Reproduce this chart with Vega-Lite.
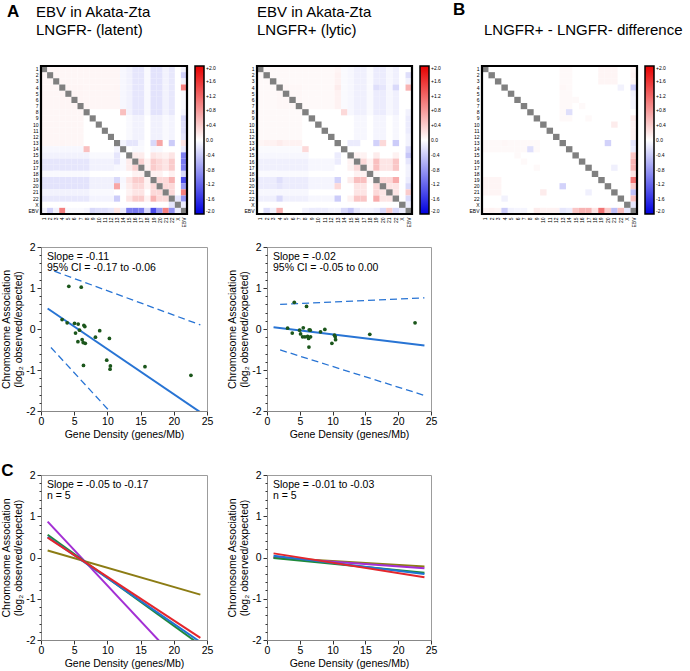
{
"$schema":"https://vega.github.io/schema/vega-lite/v6.json",
"background":"white",
"padding":{"left":1,"top":0,"right":2,"bottom":2},
"config":{"font":"Liberation Sans","view":{"stroke":null},"axis":{"grid":false},"title":{"color":"black","subtitleColor":"black"}},
"title":{"text":"B","anchor":"start","frame":"group","dx":412,"offset":-16,"fontSize":17,"fontWeight":"bold"},
"datasets":{
"hm":[
{"p":1,"a":1,"b":2,"v":0.07},{"p":1,"a":1,"b":3,"v":0.07},{"p":1,"a":1,"b":4,"v":0.07},{"p":1,"a":1,"b":5,"v":0.07},{"p":1,"a":1,"b":6,"v":0.07},{"p":1,"a":1,"b":7,"v":0.07},{"p":1,"a":1,"b":8,"v":0.07},{"p":1,"a":1,"b":9,"v":0.07},{"p":1,"a":1,"b":10,"v":0.07},{"p":1,"a":1,"b":11,"v":0.07},{"p":1,"a":1,"b":12,"v":0.07},{"p":1,"a":1,"b":13,"v":0.07},
{"p":1,"a":2,"b":3,"v":0.07},{"p":1,"a":2,"b":4,"v":0.07},{"p":1,"a":2,"b":5,"v":0.07},{"p":1,"a":2,"b":6,"v":0.07},{"p":1,"a":2,"b":7,"v":0.07},{"p":1,"a":2,"b":8,"v":0.07},{"p":1,"a":2,"b":9,"v":0.07},{"p":1,"a":2,"b":10,"v":0.07},{"p":1,"a":2,"b":11,"v":0.07},{"p":1,"a":2,"b":12,"v":0.07},{"p":1,"a":2,"b":13,"v":0.07},
{"p":1,"a":3,"b":4,"v":0.07},{"p":1,"a":3,"b":5,"v":0.07},{"p":1,"a":3,"b":6,"v":0.07},{"p":1,"a":3,"b":7,"v":0.07},{"p":1,"a":3,"b":8,"v":0.07},{"p":1,"a":3,"b":9,"v":0.07},{"p":1,"a":3,"b":10,"v":0.07},{"p":1,"a":3,"b":11,"v":0.07},{"p":1,"a":3,"b":12,"v":0.07},{"p":1,"a":3,"b":13,"v":0.07},
{"p":1,"a":4,"b":5,"v":0.08},{"p":1,"a":4,"b":6,"v":0.08},{"p":1,"a":4,"b":7,"v":0.08},{"p":1,"a":4,"b":8,"v":0.07},{"p":1,"a":4,"b":9,"v":0.07},{"p":1,"a":4,"b":10,"v":0.07},{"p":1,"a":4,"b":11,"v":0.07},{"p":1,"a":4,"b":12,"v":0.07},{"p":1,"a":4,"b":13,"v":0.08},
{"p":1,"a":5,"b":6,"v":0.08},{"p":1,"a":5,"b":7,"v":0.08},{"p":1,"a":5,"b":8,"v":0.07},{"p":1,"a":5,"b":9,"v":0.07},{"p":1,"a":5,"b":10,"v":0.07},{"p":1,"a":5,"b":11,"v":0.07},{"p":1,"a":5,"b":12,"v":0.07},{"p":1,"a":5,"b":13,"v":0.07},
{"p":1,"a":6,"b":7,"v":0.08},{"p":1,"a":6,"b":8,"v":0.07},{"p":1,"a":6,"b":9,"v":0.07},{"p":1,"a":6,"b":10,"v":0.07},{"p":1,"a":6,"b":11,"v":0.07},{"p":1,"a":6,"b":12,"v":0.07},{"p":1,"a":6,"b":13,"v":0.07},
{"p":1,"a":7,"b":8,"v":0.07},{"p":1,"a":7,"b":9,"v":0.07},{"p":1,"a":7,"b":10,"v":0.07},{"p":1,"a":7,"b":11,"v":0.07},{"p":1,"a":7,"b":12,"v":0.07},{"p":1,"a":7,"b":13,"v":0.07},
{"p":1,"a":1,"b":14,"v":-0.06},{"p":1,"a":1,"b":15,"v":-0.1},{"p":1,"a":1,"b":16,"v":-0.2},{"p":1,"a":1,"b":17,"v":-0.2},{"p":1,"a":1,"b":18,"v":-0.05},{"p":1,"a":1,"b":19,"v":-0.22},{"p":1,"a":1,"b":20,"v":-0.22},{"p":1,"a":1,"b":21,"v":-0.1},{"p":1,"a":1,"b":22,"v":-0.18},
{"p":1,"a":2,"b":14,"v":-0.06},{"p":1,"a":2,"b":15,"v":-0.1},{"p":1,"a":2,"b":16,"v":-0.2},{"p":1,"a":2,"b":17,"v":-0.2},{"p":1,"a":2,"b":18,"v":-0.05},{"p":1,"a":2,"b":19,"v":-0.22},{"p":1,"a":2,"b":20,"v":-0.22},{"p":1,"a":2,"b":21,"v":-0.1},{"p":1,"a":2,"b":22,"v":-0.18},
{"p":1,"a":3,"b":14,"v":-0.06},{"p":1,"a":3,"b":15,"v":-0.1},{"p":1,"a":3,"b":16,"v":-0.2},{"p":1,"a":3,"b":17,"v":-0.2},{"p":1,"a":3,"b":18,"v":-0.05},{"p":1,"a":3,"b":19,"v":-0.22},{"p":1,"a":3,"b":20,"v":-0.22},{"p":1,"a":3,"b":21,"v":-0.1},{"p":1,"a":3,"b":22,"v":-0.18},
{"p":1,"a":4,"b":14,"v":-0.06},{"p":1,"a":4,"b":15,"v":-0.1},{"p":1,"a":4,"b":16,"v":-0.2},{"p":1,"a":4,"b":17,"v":-0.2},{"p":1,"a":4,"b":18,"v":-0.05},{"p":1,"a":4,"b":19,"v":-0.22},{"p":1,"a":4,"b":20,"v":-0.22},{"p":1,"a":4,"b":21,"v":-0.1},{"p":1,"a":4,"b":22,"v":-0.18},
{"p":1,"a":5,"b":14,"v":-0.06},{"p":1,"a":5,"b":15,"v":-0.1},{"p":1,"a":5,"b":16,"v":-0.2},{"p":1,"a":5,"b":17,"v":-0.2},{"p":1,"a":5,"b":18,"v":-0.05},{"p":1,"a":5,"b":19,"v":-0.22},{"p":1,"a":5,"b":20,"v":-0.22},{"p":1,"a":5,"b":21,"v":-0.1},{"p":1,"a":5,"b":22,"v":-0.18},
{"p":1,"a":6,"b":14,"v":-0.06},{"p":1,"a":6,"b":15,"v":-0.1},{"p":1,"a":6,"b":16,"v":-0.2},{"p":1,"a":6,"b":17,"v":-0.2},{"p":1,"a":6,"b":18,"v":-0.05},{"p":1,"a":6,"b":19,"v":-0.22},{"p":1,"a":6,"b":20,"v":-0.22},{"p":1,"a":6,"b":21,"v":-0.1},{"p":1,"a":6,"b":22,"v":-0.18},
{"p":1,"a":7,"b":14,"v":-0.06},{"p":1,"a":7,"b":15,"v":-0.1},{"p":1,"a":7,"b":16,"v":-0.2},{"p":1,"a":7,"b":17,"v":-0.2},{"p":1,"a":7,"b":18,"v":-0.05},{"p":1,"a":7,"b":19,"v":-0.22},{"p":1,"a":7,"b":20,"v":-0.22},{"p":1,"a":7,"b":21,"v":-0.1},{"p":1,"a":7,"b":22,"v":-0.18},
{"p":1,"a":8,"b":14,"v":0.5},{"p":1,"a":8,"b":15,"v":-0.1},{"p":1,"a":8,"b":16,"v":-0.2},{"p":1,"a":8,"b":17,"v":-0.2},{"p":1,"a":8,"b":18,"v":-0.05},{"p":1,"a":8,"b":19,"v":-0.22},{"p":1,"a":8,"b":20,"v":-0.22},{"p":1,"a":8,"b":21,"v":-0.1},{"p":1,"a":8,"b":22,"v":-0.18},
{"p":1,"a":9,"b":15,"v":-0.05},{"p":1,"a":9,"b":16,"v":-0.1},{"p":1,"a":9,"b":17,"v":-0.1},{"p":1,"a":9,"b":19,"v":-0.11},{"p":1,"a":9,"b":20,"v":-0.11},{"p":1,"a":9,"b":21,"v":-0.05},{"p":1,"a":9,"b":22,"v":-0.09},
{"p":1,"a":10,"b":15,"v":-0.05},{"p":1,"a":10,"b":16,"v":-0.1},{"p":1,"a":10,"b":17,"v":-0.1},{"p":1,"a":10,"b":19,"v":-0.11},{"p":1,"a":10,"b":20,"v":-0.11},{"p":1,"a":10,"b":21,"v":-0.05},{"p":1,"a":10,"b":22,"v":-0.09},
{"p":1,"a":11,"b":15,"v":-0.05},{"p":1,"a":11,"b":16,"v":-0.1},{"p":1,"a":11,"b":17,"v":-0.1},{"p":1,"a":11,"b":19,"v":-0.11},{"p":1,"a":11,"b":20,"v":-0.11},{"p":1,"a":11,"b":21,"v":-0.05},{"p":1,"a":11,"b":22,"v":-0.09},
{"p":1,"a":12,"b":15,"v":-0.05},{"p":1,"a":12,"b":16,"v":-0.1},{"p":1,"a":12,"b":17,"v":-0.1},{"p":1,"a":12,"b":19,"v":-0.11},{"p":1,"a":12,"b":20,"v":-0.11},{"p":1,"a":12,"b":21,"v":-0.05},{"p":1,"a":12,"b":22,"v":-0.09},
{"p":1,"a":13,"b":14,"v":-0.08},{"p":1,"a":13,"b":15,"v":-0.2},{"p":1,"a":13,"b":16,"v":-0.2},{"p":1,"a":13,"b":17,"v":-0.06},{"p":1,"a":13,"b":19,"v":-0.3},{"p":1,"a":13,"b":20,"v":0.7},{"p":1,"a":13,"b":22,"v":-0.4},
{"p":1,"a":14,"b":16,"v":-0.05},{"p":1,"a":14,"b":17,"v":-0.05},{"p":1,"a":14,"b":19,"v":-0.06},{"p":1,"a":14,"b":20,"v":-0.05},
{"p":1,"a":15,"b":16,"v":0.15},{"p":1,"a":15,"b":17,"v":0.15},{"p":1,"a":15,"b":19,"v":0.2},{"p":1,"a":15,"b":20,"v":0.15},{"p":1,"a":15,"b":21,"v":0.1},{"p":1,"a":15,"b":22,"v":0.2},
{"p":1,"a":16,"b":17,"v":0.35},{"p":1,"a":16,"b":18,"v":0.1},{"p":1,"a":16,"b":19,"v":0.4},{"p":1,"a":16,"b":20,"v":0.3},{"p":1,"a":16,"b":21,"v":0.2},{"p":1,"a":16,"b":22,"v":0.4},
{"p":1,"a":17,"b":18,"v":0.1},{"p":1,"a":17,"b":19,"v":0.4},{"p":1,"a":17,"b":20,"v":0.3},{"p":1,"a":17,"b":21,"v":0.2},{"p":1,"a":17,"b":22,"v":0.4},
{"p":1,"a":18,"b":19,"v":0.1},{"p":1,"a":18,"b":20,"v":0.1},{"p":1,"a":18,"b":22,"v":0.1},
{"p":1,"a":19,"b":20,"v":0.3},{"p":1,"a":19,"b":21,"v":0.3},{"p":1,"a":19,"b":22,"v":0.6},
{"p":1,"a":20,"b":21,"v":0.3},{"p":1,"a":20,"b":22,"v":0.3},{"p":1,"a":21,"b":22,"v":0.3},{"p":1,"a":22,"b":23,"v":-0.2},
{"p":1,"a":1,"b":24,"v":-0.1},{"p":1,"a":2,"b":24,"v":-0.35},{"p":1,"a":3,"b":24,"v":-0.1},{"p":1,"a":4,"b":24,"v":1.0},{"p":1,"a":5,"b":24,"v":-0.05},{"p":1,"a":6,"b":24,"v":-0.05},{"p":1,"a":7,"b":24,"v":-0.05},{"p":1,"a":8,"b":24,"v":-0.08},{"p":1,"a":9,"b":24,"v":-0.3},{"p":1,"a":10,"b":24,"v":-0.25},{"p":1,"a":11,"b":24,"v":-0.25},{"p":1,"a":12,"b":24,"v":-0.2},{"p":1,"a":13,"b":24,"v":0.2},{"p":1,"a":14,"b":24,"v":-0.15},{"p":1,"a":15,"b":24,"v":-1.0},{"p":1,"a":16,"b":24,"v":-1.05},{"p":1,"a":17,"b":24,"v":-1.0},{"p":1,"a":18,"b":24,"v":-0.3},{"p":1,"a":19,"b":24,"v":-1.4},{"p":1,"a":20,"b":24,"v":-0.8},{"p":1,"a":21,"b":24,"v":1.0},{"p":1,"a":22,"b":24,"v":-0.85},{"p":1,"a":23,"b":24,"v":-0.15},
{"p":2,"a":1,"b":2,"v":0.05},{"p":2,"a":1,"b":3,"v":0.05},{"p":2,"a":1,"b":4,"v":0.05},{"p":2,"a":1,"b":5,"v":0.05},{"p":2,"a":1,"b":6,"v":0.05},{"p":2,"a":1,"b":7,"v":0.05},{"p":2,"a":1,"b":8,"v":0.05},{"p":2,"a":1,"b":9,"v":0.05},{"p":2,"a":1,"b":10,"v":0.05},{"p":2,"a":1,"b":11,"v":0.05},{"p":2,"a":1,"b":12,"v":0.05},{"p":2,"a":1,"b":13,"v":0.08},
{"p":2,"a":2,"b":3,"v":0.05},{"p":2,"a":2,"b":4,"v":0.05},{"p":2,"a":2,"b":5,"v":0.05},{"p":2,"a":2,"b":6,"v":0.05},{"p":2,"a":2,"b":7,"v":0.05},{"p":2,"a":2,"b":8,"v":0.05},{"p":2,"a":2,"b":9,"v":0.05},{"p":2,"a":2,"b":10,"v":0.05},{"p":2,"a":2,"b":11,"v":0.05},{"p":2,"a":2,"b":12,"v":0.05},{"p":2,"a":2,"b":13,"v":0.1},
{"p":2,"a":3,"b":4,"v":0.05},{"p":2,"a":3,"b":5,"v":0.05},{"p":2,"a":3,"b":6,"v":0.05},{"p":2,"a":3,"b":7,"v":0.05},{"p":2,"a":3,"b":8,"v":0.05},{"p":2,"a":3,"b":9,"v":0.05},{"p":2,"a":3,"b":10,"v":0.05},{"p":2,"a":3,"b":11,"v":0.05},{"p":2,"a":3,"b":12,"v":0.05},{"p":2,"a":3,"b":13,"v":0.1},
{"p":2,"a":4,"b":5,"v":0.06},{"p":2,"a":4,"b":6,"v":0.06},{"p":2,"a":4,"b":7,"v":0.06},{"p":2,"a":4,"b":8,"v":0.05},{"p":2,"a":4,"b":9,"v":0.05},{"p":2,"a":4,"b":10,"v":0.05},{"p":2,"a":4,"b":11,"v":0.05},{"p":2,"a":4,"b":12,"v":0.05},{"p":2,"a":4,"b":13,"v":0.15},
{"p":2,"a":5,"b":6,"v":0.06},{"p":2,"a":5,"b":7,"v":0.06},{"p":2,"a":5,"b":8,"v":0.05},{"p":2,"a":5,"b":9,"v":0.05},{"p":2,"a":5,"b":10,"v":0.05},{"p":2,"a":5,"b":11,"v":0.05},{"p":2,"a":5,"b":12,"v":0.05},{"p":2,"a":5,"b":13,"v":0.1},
{"p":2,"a":6,"b":7,"v":0.06},{"p":2,"a":6,"b":8,"v":0.05},{"p":2,"a":6,"b":9,"v":0.05},{"p":2,"a":6,"b":10,"v":0.05},{"p":2,"a":6,"b":11,"v":0.05},{"p":2,"a":6,"b":12,"v":0.05},{"p":2,"a":6,"b":13,"v":0.1},
{"p":2,"a":7,"b":8,"v":0.05},{"p":2,"a":7,"b":9,"v":0.05},{"p":2,"a":7,"b":10,"v":0.05},{"p":2,"a":7,"b":11,"v":0.05},{"p":2,"a":7,"b":12,"v":0.05},{"p":2,"a":7,"b":13,"v":0.1},
{"p":2,"a":1,"b":14,"v":-0.04},{"p":2,"a":1,"b":15,"v":-0.06},{"p":2,"a":1,"b":16,"v":-0.12},{"p":2,"a":1,"b":17,"v":-0.12},{"p":2,"a":1,"b":18,"v":-0.04},{"p":2,"a":1,"b":19,"v":-0.15},{"p":2,"a":1,"b":20,"v":-0.15},{"p":2,"a":1,"b":21,"v":-0.06},{"p":2,"a":1,"b":22,"v":-0.12},
{"p":2,"a":2,"b":14,"v":-0.04},{"p":2,"a":2,"b":15,"v":-0.06},{"p":2,"a":2,"b":16,"v":-0.12},{"p":2,"a":2,"b":17,"v":-0.12},{"p":2,"a":2,"b":18,"v":-0.04},{"p":2,"a":2,"b":19,"v":-0.15},{"p":2,"a":2,"b":20,"v":-0.15},{"p":2,"a":2,"b":21,"v":-0.06},{"p":2,"a":2,"b":22,"v":-0.12},
{"p":2,"a":3,"b":14,"v":-0.04},{"p":2,"a":3,"b":15,"v":-0.06},{"p":2,"a":3,"b":16,"v":-0.12},{"p":2,"a":3,"b":17,"v":-0.12},{"p":2,"a":3,"b":18,"v":-0.04},{"p":2,"a":3,"b":19,"v":-0.15},{"p":2,"a":3,"b":20,"v":-0.15},{"p":2,"a":3,"b":21,"v":-0.06},{"p":2,"a":3,"b":22,"v":-0.12},
{"p":2,"a":4,"b":14,"v":-0.04},{"p":2,"a":4,"b":15,"v":-0.06},{"p":2,"a":4,"b":16,"v":-0.12},{"p":2,"a":4,"b":17,"v":-0.12},{"p":2,"a":4,"b":18,"v":-0.04},{"p":2,"a":4,"b":19,"v":-0.25},{"p":2,"a":4,"b":20,"v":-0.2},{"p":2,"a":4,"b":21,"v":-0.06},{"p":2,"a":4,"b":22,"v":-0.3},
{"p":2,"a":5,"b":14,"v":-0.04},{"p":2,"a":5,"b":15,"v":-0.06},{"p":2,"a":5,"b":16,"v":-0.12},{"p":2,"a":5,"b":17,"v":-0.12},{"p":2,"a":5,"b":18,"v":-0.04},{"p":2,"a":5,"b":19,"v":-0.15},{"p":2,"a":5,"b":20,"v":-0.15},{"p":2,"a":5,"b":21,"v":-0.06},{"p":2,"a":5,"b":22,"v":-0.12},
{"p":2,"a":6,"b":14,"v":-0.04},{"p":2,"a":6,"b":15,"v":-0.06},{"p":2,"a":6,"b":16,"v":-0.12},{"p":2,"a":6,"b":17,"v":-0.12},{"p":2,"a":6,"b":18,"v":-0.04},{"p":2,"a":6,"b":19,"v":-0.15},{"p":2,"a":6,"b":20,"v":-0.15},{"p":2,"a":6,"b":21,"v":-0.06},{"p":2,"a":6,"b":22,"v":-0.12},
{"p":2,"a":7,"b":14,"v":-0.04},{"p":2,"a":7,"b":15,"v":-0.06},{"p":2,"a":7,"b":16,"v":-0.12},{"p":2,"a":7,"b":17,"v":-0.12},{"p":2,"a":7,"b":18,"v":-0.04},{"p":2,"a":7,"b":19,"v":-0.15},{"p":2,"a":7,"b":20,"v":-0.15},{"p":2,"a":7,"b":21,"v":-0.06},{"p":2,"a":7,"b":22,"v":-0.12},
{"p":2,"a":8,"b":14,"v":0.3},{"p":2,"a":8,"b":15,"v":-0.06},{"p":2,"a":8,"b":16,"v":-0.12},{"p":2,"a":8,"b":17,"v":-0.12},{"p":2,"a":8,"b":18,"v":-0.04},{"p":2,"a":8,"b":19,"v":-0.15},{"p":2,"a":8,"b":20,"v":-0.15},{"p":2,"a":8,"b":21,"v":-0.06},{"p":2,"a":8,"b":22,"v":-0.12},
{"p":2,"a":9,"b":16,"v":-0.06},{"p":2,"a":9,"b":17,"v":-0.06},{"p":2,"a":9,"b":19,"v":-0.08},{"p":2,"a":9,"b":20,"v":-0.08},{"p":2,"a":9,"b":22,"v":-0.06},
{"p":2,"a":10,"b":16,"v":-0.06},{"p":2,"a":10,"b":17,"v":-0.06},{"p":2,"a":10,"b":19,"v":-0.08},{"p":2,"a":10,"b":20,"v":-0.08},{"p":2,"a":10,"b":22,"v":-0.06},
{"p":2,"a":11,"b":16,"v":-0.06},{"p":2,"a":11,"b":17,"v":-0.06},{"p":2,"a":11,"b":19,"v":-0.08},{"p":2,"a":11,"b":20,"v":-0.08},{"p":2,"a":11,"b":22,"v":-0.06},
{"p":2,"a":12,"b":16,"v":-0.06},{"p":2,"a":12,"b":17,"v":-0.06},{"p":2,"a":12,"b":19,"v":-0.08},{"p":2,"a":12,"b":20,"v":-0.08},{"p":2,"a":12,"b":22,"v":-0.06},
{"p":2,"a":13,"b":15,"v":-0.15},{"p":2,"a":13,"b":16,"v":-0.15},{"p":2,"a":13,"b":19,"v":-0.35},{"p":2,"a":13,"b":20,"v":0.3},{"p":2,"a":13,"b":22,"v":-0.4},
{"p":2,"a":15,"b":16,"v":0.1},{"p":2,"a":15,"b":17,"v":0.1},{"p":2,"a":15,"b":19,"v":0.15},{"p":2,"a":15,"b":22,"v":0.1},
{"p":2,"a":16,"b":17,"v":0.3},{"p":2,"a":16,"b":18,"v":0.1},{"p":2,"a":16,"b":19,"v":0.5},{"p":2,"a":16,"b":20,"v":0.2},{"p":2,"a":16,"b":21,"v":0.2},{"p":2,"a":16,"b":22,"v":0.45},
{"p":2,"a":17,"b":18,"v":0.1},{"p":2,"a":17,"b":19,"v":0.5},{"p":2,"a":17,"b":20,"v":0.2},{"p":2,"a":17,"b":21,"v":0.2},{"p":2,"a":17,"b":22,"v":0.45},
{"p":2,"a":18,"b":19,"v":0.05},{"p":2,"a":19,"b":20,"v":0.3},{"p":2,"a":19,"b":21,"v":0.3},{"p":2,"a":19,"b":22,"v":0.65},
{"p":2,"a":20,"b":21,"v":0.2},{"p":2,"a":20,"b":22,"v":0.2},{"p":2,"a":21,"b":22,"v":0.2},
{"p":2,"a":2,"b":24,"v":-0.25},{"p":2,"a":3,"b":24,"v":-0.1},{"p":2,"a":4,"b":24,"v":0.6},{"p":2,"a":8,"b":24,"v":-0.1},{"p":2,"a":9,"b":24,"v":-0.15},{"p":2,"a":10,"b":24,"v":-0.15},{"p":2,"a":11,"b":24,"v":-0.15},{"p":2,"a":12,"b":24,"v":-0.1},{"p":2,"a":13,"b":24,"v":-0.1},{"p":2,"a":14,"b":24,"v":-0.3},{"p":2,"a":15,"b":24,"v":-0.45},{"p":2,"a":16,"b":24,"v":-0.2},{"p":2,"a":17,"b":24,"v":-0.1},{"p":2,"a":18,"b":24,"v":-0.1},{"p":2,"a":19,"b":24,"v":-0.15},{"p":2,"a":20,"b":24,"v":-0.3},{"p":2,"a":21,"b":24,"v":0.4},{"p":2,"a":22,"b":24,"v":-0.3},{"p":2,"a":23,"b":24,"v":-0.15},
{"p":3,"a":1,"b":13,"v":0.05},{"p":3,"a":2,"b":13,"v":0.05},{"p":3,"a":3,"b":13,"v":0.05},{"p":3,"a":4,"b":13,"v":0.06},{"p":3,"a":5,"b":13,"v":0.05},{"p":3,"a":6,"b":13,"v":0.05},{"p":3,"a":7,"b":13,"v":0.05},{"p":3,"a":8,"b":13,"v":0.05},{"p":3,"a":9,"b":13,"v":0.05},
{"p":3,"a":1,"b":14,"v":0.05},{"p":3,"a":2,"b":14,"v":0.05},{"p":3,"a":3,"b":14,"v":0.05},{"p":3,"a":4,"b":14,"v":0.05},{"p":3,"a":5,"b":14,"v":0.05},{"p":3,"a":6,"b":14,"v":0.05},{"p":3,"a":7,"b":14,"v":0.05},{"p":3,"a":8,"b":14,"v":-0.25},{"p":3,"a":9,"b":14,"v":0.05},
{"p":3,"a":1,"b":19,"v":0.08},{"p":3,"a":1,"b":20,"v":0.08},{"p":3,"a":1,"b":21,"v":0.08},{"p":3,"a":2,"b":19,"v":0.08},{"p":3,"a":2,"b":20,"v":0.08},{"p":3,"a":2,"b":21,"v":0.08},{"p":3,"a":3,"b":19,"v":0.08},{"p":3,"a":3,"b":20,"v":0.08},{"p":3,"a":3,"b":21,"v":0.08},
{"p":3,"a":4,"b":22,"v":-0.1},{"p":3,"a":13,"b":20,"v":-0.35},{"p":3,"a":17,"b":21,"v":-0.12},{"p":3,"a":10,"b":21,"v":0.15},{"p":3,"a":6,"b":15,"v":0.05},{"p":3,"a":7,"b":16,"v":0.05},{"p":3,"a":9,"b":17,"v":0.05},
{"p":3,"a":1,"b":24,"v":0.08},{"p":3,"a":2,"b":24,"v":0.1},{"p":3,"a":3,"b":24,"v":0.08},{"p":3,"a":4,"b":24,"v":-0.4},{"p":3,"a":5,"b":24,"v":-0.1},{"p":3,"a":6,"b":24,"v":-0.08},{"p":3,"a":7,"b":24,"v":-0.08},{"p":3,"a":9,"b":24,"v":0.15},{"p":3,"a":10,"b":24,"v":0.1},{"p":3,"a":11,"b":24,"v":0.1},{"p":3,"a":12,"b":24,"v":0.1},{"p":3,"a":13,"b":24,"v":-0.2},{"p":3,"a":14,"b":24,"v":-0.15},{"p":3,"a":15,"b":24,"v":0.45},{"p":3,"a":16,"b":24,"v":0.6},{"p":3,"a":17,"b":24,"v":0.6},{"p":3,"a":18,"b":24,"v":0.2},{"p":3,"a":19,"b":24,"v":1.1},{"p":3,"a":20,"b":24,"v":0.4},{"p":3,"a":21,"b":24,"v":-0.5},{"p":3,"a":22,"b":24,"v":0.5},{"p":3,"a":23,"b":24,"v":-0.2}
],
"diag":[{"k":1},{"k":2},{"k":3},{"k":4},{"k":5},{"k":6},{"k":7},{"k":8},{"k":9},{"k":10},{"k":11},{"k":12},{"k":13},{"k":14},{"k":15},{"k":16},{"k":17},{"k":18},{"k":19},{"k":20},{"k":21},{"k":22},{"k":23},{"k":24}],
"frame":[{"f":"border"}],
"pts":[
{"p":1,"x":4.19,"y":1.04},{"p":1,"x":6.06,"y":1.02},{"p":1,"x":3.18,"y":0.23},{"p":1,"x":3.94,"y":0.15},{"p":1,"x":5.05,"y":0.14},{"p":1,"x":5.6,"y":0.12},{"p":1,"x":6.46,"y":0.09},{"p":1,"x":6.6,"y":0.06},{"p":1,"x":5.2,"y":-0.1},{"p":1,"x":5.8,"y":-0.03},{"p":1,"x":8.84,"y":-0.04},{"p":1,"x":8.2,"y":-0.2},{"p":1,"x":10.3,"y":-0.23},{"p":1,"x":5.56,"y":-0.31},{"p":1,"x":6.2,"y":-0.26},{"p":1,"x":6.36,"y":-0.33},{"p":1,"x":6.67,"y":-0.35},{"p":1,"x":9.9,"y":-0.76},{"p":1,"x":10.45,"y":-0.9},{"p":1,"x":10.4,"y":-0.98},{"p":1,"x":6.4,"y":-0.89},{"p":1,"x":15.66,"y":-0.92},{"p":1,"x":22.58,"y":-1.13},
{"p":2,"x":4.16,"y":0.65},{"p":2,"x":6.03,"y":0.55},{"p":2,"x":3.14,"y":0.02},{"p":2,"x":3.85,"y":-0.1},{"p":2,"x":4.97,"y":-0.03},{"p":2,"x":5.12,"y":-0.12},{"p":2,"x":5.53,"y":0.03},{"p":2,"x":5.43,"y":-0.19},{"p":2,"x":5.78,"y":-0.19},{"p":2,"x":6.19,"y":-0.18},{"p":2,"x":6.34,"y":-0.23},{"p":2,"x":6.44,"y":-0.02},{"p":2,"x":6.59,"y":-0.03},{"p":2,"x":6.64,"y":-0.19},{"p":2,"x":6.39,"y":-0.44},{"p":2,"x":8.16,"y":-0.07},{"p":2,"x":8.82,"y":-0.01},{"p":2,"x":9.89,"y":-0.35},{"p":2,"x":10.29,"y":-0.15},{"p":2,"x":10.4,"y":-0.19},{"p":2,"x":10.45,"y":-0.26},{"p":2,"x":15.67,"y":-0.13},{"p":2,"x":22.57,"y":0.15}
],
"fit":[
{"p":1,"k":"fit","x":1,"y":0.5},{"p":1,"k":"fit","x":24,"y":-2.03},
{"p":1,"k":"hi","x":2,"y":1.41},{"p":1,"k":"hi","x":24,"y":0.1},
{"p":1,"k":"lo","x":1.5,"y":-0.45},{"p":1,"k":"lo","x":24,"y":-4.41},
{"p":2,"k":"fit","x":1,"y":0.04},{"p":2,"k":"fit","x":24,"y":-0.4},
{"p":2,"k":"hi","x":2,"y":0.6},{"p":2,"k":"hi","x":24,"y":0.76},
{"p":2,"k":"lo","x":2,"y":-0.51},{"p":2,"k":"lo","x":24,"y":-1.62}
],
"cl":[
{"p":1,"s":"olive","x":1,"y":0.17},{"p":1,"s":"olive","x":24,"y":-0.9},
{"p":1,"s":"purple","x":1,"y":0.87},{"p":1,"s":"purple","x":24,"y":-3.09},
{"p":1,"s":"green","x":1,"y":0.55},{"p":1,"s":"green","x":24,"y":-2.12},
{"p":1,"s":"blue","x":1,"y":0.5},{"p":1,"s":"blue","x":24,"y":-2.05},
{"p":1,"s":"red","x":1,"y":0.48},{"p":1,"s":"red","x":24,"y":-1.95},
{"p":2,"s":"olive","x":1,"y":0.0},{"p":2,"s":"olive","x":24,"y":-0.22},
{"p":2,"s":"purple","x":1,"y":0.0},{"p":2,"s":"purple","x":24,"y":-0.26},
{"p":2,"s":"green","x":1,"y":-0.01},{"p":2,"s":"green","x":24,"y":-0.37},
{"p":2,"s":"blue","x":1,"y":0.04},{"p":2,"s":"blue","x":24,"y":-0.4},
{"p":2,"s":"red","x":1,"y":0.1},{"p":2,"s":"red","x":24,"y":-0.48}
]
},
"resolve":{"scale":{"color":"independent"}},
"spacing":13,
"vconcat":[
{"hconcat":[
{"width":146,"height":148,
 "title":{"text":["EBV in Akata-Zta","LNGFR- (latent)"],"anchor":"start","frame":"group","dx":-5,"offset":27,"fontSize":15,"fontWeight":"normal","lineHeight":18},
 "layer":[
 {"data":{"name":"hm"},"transform":[{"filter":"datum.p==1"}],"mark":"rect","encoding":{
  "x":{"field":"b","type":"ordinal","scale":{"domain":[1,2,3,4,5,6,7,8,9,10,11,12,13,14,15,16,17,18,19,20,21,22,23,24],"paddingInner":0,"paddingOuter":0},"axis":{"title":null,"ticks":false,"domain":false,"labelFontSize":5,"labelAngle":-90,"labelPadding":3,"labelExpr":"datum.value==23?'X':datum.value==24?'EBV':datum.label"}},
  "y":{"field":"a","type":"ordinal","scale":{"domain":[1,2,3,4,5,6,7,8,9,10,11,12,13,14,15,16,17,18,19,20,21,22,23,24],"paddingInner":0,"paddingOuter":0},"axis":{"title":null,"ticks":false,"domain":false,"labelFontSize":5,"labelPadding":3,"labelExpr":"datum.value==23?'X':datum.value==24?'EBV':datum.label"}},
  "color":{"field":"v","type":"quantitative","scale":{"domain":[-2,0,2],"range":["#0000e0","#ffffff","#e80000"],"interpolate":"rgb"},"legend":{"title":null,"offset":8,"padding":0,"gradientLength":148,"gradientThickness":9,"gradientStrokeColor":"black","gradientStrokeWidth":1.5,"values":[2,1.6,1.2,0.8,0.4,0,-0.4,-0.8,-1.2,-1.6,-2],"labelFontSize":5,"labelOffset":2,"labelOverlap":false,"labelExpr":"datum.value>0?'+'+format(datum.value,'.1f'):replace(format(datum.value,'.1f'),'\u2212','-')"}}}},
 {"data":{"name":"hm"},"transform":[{"filter":"datum.p==1"}],"mark":"rect","encoding":{
  "x":{"field":"a","type":"ordinal","scale":{"domain":[1,2,3,4,5,6,7,8,9,10,11,12,13,14,15,16,17,18,19,20,21,22,23,24],"paddingInner":0,"paddingOuter":0},"axis":{"title":null}},"y":{"field":"b","type":"ordinal","scale":{"domain":[1,2,3,4,5,6,7,8,9,10,11,12,13,14,15,16,17,18,19,20,21,22,23,24],"paddingInner":0,"paddingOuter":0},"axis":{"title":null}},
  "color":{"field":"v","type":"quantitative","scale":{"domain":[-2,0,2],"range":["#0000e0","#ffffff","#e80000"],"interpolate":"rgb"}}}},
 {"data":{"name":"diag"},"mark":{"type":"rect","color":"#808080"},"encoding":{"x":{"field":"k","type":"ordinal","axis":{"title":null}},"y":{"field":"k","type":"ordinal","axis":{"title":null}}}},
 {"data":{"name":"frame"},"mark":{"type":"rect","fillOpacity":0,"stroke":"black","strokeWidth":2.2},"encoding":{}}
 ]},
{"width":155,"height":148,
 "title":{"text":["EBV in Akata-Zta","LNGFR+ (lytic)"],"anchor":"start","frame":"group","dx":0,"offset":27,"fontSize":15,"fontWeight":"normal","lineHeight":18},
 "layer":[
 {"data":{"name":"hm"},"transform":[{"filter":"datum.p==2"}],"mark":"rect","encoding":{
  "x":{"field":"b","type":"ordinal","scale":{"domain":[1,2,3,4,5,6,7,8,9,10,11,12,13,14,15,16,17,18,19,20,21,22,23,24],"paddingInner":0,"paddingOuter":0},"axis":{"title":null,"ticks":false,"domain":false,"labelFontSize":5,"labelAngle":-90,"labelPadding":3,"labelExpr":"datum.value==23?'X':datum.value==24?'EBV':datum.label"}},
  "y":{"field":"a","type":"ordinal","scale":{"domain":[1,2,3,4,5,6,7,8,9,10,11,12,13,14,15,16,17,18,19,20,21,22,23,24],"paddingInner":0,"paddingOuter":0},"axis":{"title":null,"ticks":false,"domain":false,"labelFontSize":5,"labelPadding":3,"labelExpr":"datum.value==23?'X':datum.value==24?'EBV':datum.label"}},
  "color":{"field":"v","type":"quantitative","scale":{"domain":[-2,0,2],"range":["#0000e0","#ffffff","#e80000"],"interpolate":"rgb"},"legend":{"title":null,"offset":8,"padding":0,"gradientLength":148,"gradientThickness":9,"gradientStrokeColor":"black","gradientStrokeWidth":1.5,"values":[2,1.6,1.2,0.8,0.4,0,-0.4,-0.8,-1.2,-1.6,-2],"labelFontSize":5,"labelOffset":2,"labelOverlap":false,"labelExpr":"datum.value>0?'+'+format(datum.value,'.1f'):replace(format(datum.value,'.1f'),'\u2212','-')"}}}},
 {"data":{"name":"hm"},"transform":[{"filter":"datum.p==2"}],"mark":"rect","encoding":{
  "x":{"field":"a","type":"ordinal","scale":{"domain":[1,2,3,4,5,6,7,8,9,10,11,12,13,14,15,16,17,18,19,20,21,22,23,24],"paddingInner":0,"paddingOuter":0},"axis":{"title":null}},"y":{"field":"b","type":"ordinal","scale":{"domain":[1,2,3,4,5,6,7,8,9,10,11,12,13,14,15,16,17,18,19,20,21,22,23,24],"paddingInner":0,"paddingOuter":0},"axis":{"title":null}},
  "color":{"field":"v","type":"quantitative","scale":{"domain":[-2,0,2],"range":["#0000e0","#ffffff","#e80000"],"interpolate":"rgb"}}}},
 {"data":{"name":"diag"},"mark":{"type":"rect","color":"#808080"},"encoding":{"x":{"field":"k","type":"ordinal","axis":{"title":null}},"y":{"field":"k","type":"ordinal","axis":{"title":null}}}},
 {"data":{"name":"frame"},"mark":{"type":"rect","fillOpacity":0,"stroke":"black","strokeWidth":2.2},"encoding":{}}
 ]},
{"width":155,"height":148,
 "title":{"text":"LNGFR+ - LNGFR- difference","anchor":"start","frame":"group","dx":2,"offset":27,"fontSize":15,"fontWeight":"normal"},
 "layer":[
 {"data":{"name":"hm"},"transform":[{"filter":"datum.p==3"}],"mark":"rect","encoding":{
  "x":{"field":"b","type":"ordinal","scale":{"domain":[1,2,3,4,5,6,7,8,9,10,11,12,13,14,15,16,17,18,19,20,21,22,23,24],"paddingInner":0,"paddingOuter":0},"axis":{"title":null,"ticks":false,"domain":false,"labelFontSize":5,"labelAngle":-90,"labelPadding":3,"labelExpr":"datum.value==23?'X':datum.value==24?'EBV':datum.label"}},
  "y":{"field":"a","type":"ordinal","scale":{"domain":[1,2,3,4,5,6,7,8,9,10,11,12,13,14,15,16,17,18,19,20,21,22,23,24],"paddingInner":0,"paddingOuter":0},"axis":{"title":null,"ticks":false,"domain":false,"labelFontSize":5,"labelPadding":3,"labelExpr":"datum.value==23?'X':datum.value==24?'EBV':datum.label"}},
  "color":{"field":"v","type":"quantitative","scale":{"domain":[-2,0,2],"range":["#0000e0","#ffffff","#e80000"],"interpolate":"rgb"},"legend":{"title":null,"offset":8,"padding":0,"gradientLength":148,"gradientThickness":9,"gradientStrokeColor":"black","gradientStrokeWidth":1.5,"values":[2,1.6,1.2,0.8,0.4,0,-0.4,-0.8,-1.2,-1.6,-2],"labelFontSize":5,"labelOffset":2,"labelOverlap":false,"labelExpr":"datum.value>0?'+'+format(datum.value,'.1f'):replace(format(datum.value,'.1f'),'\u2212','-')"}}}},
 {"data":{"name":"hm"},"transform":[{"filter":"datum.p==3"}],"mark":"rect","encoding":{
  "x":{"field":"a","type":"ordinal","scale":{"domain":[1,2,3,4,5,6,7,8,9,10,11,12,13,14,15,16,17,18,19,20,21,22,23,24],"paddingInner":0,"paddingOuter":0},"axis":{"title":null}},"y":{"field":"b","type":"ordinal","scale":{"domain":[1,2,3,4,5,6,7,8,9,10,11,12,13,14,15,16,17,18,19,20,21,22,23,24],"paddingInner":0,"paddingOuter":0},"axis":{"title":null}},
  "color":{"field":"v","type":"quantitative","scale":{"domain":[-2,0,2],"range":["#0000e0","#ffffff","#e80000"],"interpolate":"rgb"}}}},
 {"data":{"name":"diag"},"mark":{"type":"rect","color":"#808080"},"encoding":{"x":{"field":"k","type":"ordinal","axis":{"title":null}},"y":{"field":"k","type":"ordinal","axis":{"title":null}}}},
 {"data":{"name":"frame"},"mark":{"type":"rect","fillOpacity":0,"stroke":"black","strokeWidth":2.2},"encoding":{}}
 ]}
],"spacing":70,"bounds":"flush","resolve":{"scale":{"color":"independent"}},
 "title":{"text":"A","anchor":"start","frame":"group","dx":-34,"offset":-16,"fontSize":17,"fontWeight":"bold"}},
{"vconcat":[
{"hconcat":[
{"width":166,"height":164,"view":{"stroke":"#9c9c9c","strokeWidth":1},
 "title":{"text":["Slope = -0.11","95% CI = -0.17 to -0.06"],"anchor":"start","frame":"group","offset":-31,"dx":6,"fontSize":10.5,"fontWeight":"normal","lineHeight":11},
 "encoding":{"x":{"field":"x","type":"quantitative","scale":{"domain":[0,25],"nice":false,"zero":false},"axis":{"values":[0,5,10,15,20,25],"title":"Gene Density (genes/Mb)","titleFontSize":10.5,"titleFontWeight":"normal","titlePadding":3,"labelFontSize":10.5,"labelPadding":1,"labelFlush":false,"tickSize":4,"tickColor":"#333","domainColor":"#888","labelColor":"black","titleColor":"black"}}},
 "layer":[
 {"data":{"name":"fit"},"transform":[{"filter":"datum.p==1 && datum.k=='fit'"}],"mark":{"type":"line","clip":true,"color":"#2874d4","strokeWidth":2},
  "encoding":{"y":{"field":"y","type":"quantitative","scale":{"domain":[-2,2],"nice":false,"zero":false},"axis":{"orient":"left","values":[-2,-1,0,1,2],"labelExpr":"''+datum.value","title":["Chromosome Association","(log\u2082 observed/expected)"],"titleFontSize":10.5,"titleFontWeight":"normal","titleLineHeight":12,"titlePadding":2,"labelFontSize":10.5,"labelPadding":2,"tickSize":4,"tickColor":"#333","domainColor":"#888","labelColor":"black","titleColor":"black"}}}},
 {"data":{"name":"fit"},"transform":[{"filter":"datum.p==1 && datum.k!='fit'"}],"mark":{"type":"line","clip":true,"color":"#2874d4","strokeWidth":1.3,"strokeDash":[7,4]},
  "encoding":{"detail":{"field":"k","type":"nominal"},"y":{"field":"y","type":"quantitative","axis":{"orient":"left","values":[-1.8,-1.6,-1.4,-1.2,-0.8,-0.6,-0.4,-0.2,0.2,0.4,0.6,0.8,1.2,1.4,1.6,1.8],"labels":false,"tickSize":2,"domain":false,"title":null,"tickColor":"#333"}}}},
 {"data":{"name":"pts"},"transform":[{"filter":"datum.p==1"}],"mark":{"type":"circle","size":14,"color":"#1b561b","opacity":1},
  "encoding":{"y":{"field":"y","type":"quantitative","axis":null}}}
 ],
 "resolve":{"axis":{"y":"independent"}}},
{"width":164,"height":164,"view":{"stroke":"#9c9c9c","strokeWidth":1},
 "title":{"text":["Slope = -0.02","95% CI = -0.05 to 0.00"],"anchor":"start","frame":"group","offset":-31,"dx":6,"fontSize":10.5,"fontWeight":"normal","lineHeight":11},
 "encoding":{"x":{"field":"x","type":"quantitative","scale":{"domain":[0,25],"nice":false,"zero":false},"axis":{"values":[0,5,10,15,20,25],"title":"Gene Density (genes/Mb)","titleFontSize":10.5,"titleFontWeight":"normal","titlePadding":3,"labelFontSize":10.5,"labelPadding":1,"labelFlush":false,"tickSize":4,"tickColor":"#333","domainColor":"#888","labelColor":"black","titleColor":"black"}}},
 "layer":[
 {"data":{"name":"fit"},"transform":[{"filter":"datum.p==2 && datum.k=='fit'"}],"mark":{"type":"line","clip":true,"color":"#2874d4","strokeWidth":2},
  "encoding":{"y":{"field":"y","type":"quantitative","scale":{"domain":[-2,2],"nice":false,"zero":false},"axis":{"orient":"left","values":[-2,-1,0,1,2],"labelExpr":"''+datum.value","title":["Chromosome Association","(log\u2082 observed/expected)"],"titleFontSize":10.5,"titleFontWeight":"normal","titleLineHeight":12,"titlePadding":2,"labelFontSize":10.5,"labelPadding":2,"tickSize":4,"tickColor":"#333","domainColor":"#888","labelColor":"black","titleColor":"black"}}}},
 {"data":{"name":"fit"},"transform":[{"filter":"datum.p==2 && datum.k!='fit'"}],"mark":{"type":"line","clip":true,"color":"#2874d4","strokeWidth":1.3,"strokeDash":[7,4]},
  "encoding":{"detail":{"field":"k","type":"nominal"},"y":{"field":"y","type":"quantitative","axis":{"orient":"left","values":[-1.8,-1.6,-1.4,-1.2,-0.8,-0.6,-0.4,-0.2,0.2,0.4,0.6,0.8,1.2,1.4,1.6,1.8],"labels":false,"tickSize":2,"domain":false,"title":null,"tickColor":"#333"}}}},
 {"data":{"name":"pts"},"transform":[{"filter":"datum.p==2"}],"mark":{"type":"circle","size":14,"color":"#1b561b","opacity":1},
  "encoding":{"y":{"field":"y","type":"quantitative","axis":null}}}
 ],
 "resolve":{"axis":{"y":"independent"}}}
],"spacing":60,"bounds":"flush"},
{"hconcat":[
{"width":166,"height":165,"view":{"stroke":"#9c9c9c","strokeWidth":1},
 "title":{"text":["Slope = -0.05 to -0.17","n = 5"],"anchor":"start","frame":"group","offset":-31,"dx":6,"fontSize":10.5,"fontWeight":"normal","lineHeight":11},
 "encoding":{"x":{"field":"x","type":"quantitative","scale":{"domain":[0,25],"nice":false,"zero":false},"axis":{"values":[0,5,10,15,20,25],"title":"Gene Density (genes/Mb)","titleFontSize":10.5,"titleFontWeight":"normal","titlePadding":3,"labelFontSize":10.5,"labelPadding":1,"labelFlush":false,"tickSize":4,"tickColor":"#333","domainColor":"#888","labelColor":"black","titleColor":"black"}},
  "color":{"field":"s","type":"nominal","scale":{"domain":["olive","purple","green","blue","red"],"range":["#8c7c14","#a32fd4","#1f8a3b","#1f74d2","#e4262c"]},"legend":null}},
 "layer":[
 {"data":{"name":"cl"},"transform":[{"filter":"datum.p==1 && (datum.s=='olive' || datum.s=='purple')"}],"mark":{"type":"line","clip":true,"strokeWidth":2},
  "encoding":{"y":{"field":"y","type":"quantitative","scale":{"domain":[-2,2],"nice":false,"zero":false},"axis":{"orient":"left","values":[-2,-1,0,1,2],"labelExpr":"''+datum.value","title":["Chromosome Association","(log\u2082 observed/expected)"],"titleFontSize":10.5,"titleFontWeight":"normal","titleLineHeight":12,"titlePadding":2,"labelFontSize":10.5,"labelPadding":2,"tickSize":4,"tickColor":"#333","domainColor":"#888","labelColor":"black","titleColor":"black"}}}},
 {"data":{"name":"cl"},"transform":[{"filter":"datum.p==1 && datum.s!='olive' && datum.s!='purple'"}],"mark":{"type":"line","clip":true,"strokeWidth":2},
  "encoding":{"y":{"field":"y","type":"quantitative","axis":{"orient":"left","values":[-1.8,-1.6,-1.4,-1.2,-0.8,-0.6,-0.4,-0.2,0.2,0.4,0.6,0.8,1.2,1.4,1.6,1.8],"labels":false,"tickSize":2,"domain":false,"title":null,"tickColor":"#333"}}}}
 ],
 "resolve":{"axis":{"y":"independent"}}},
{"width":164,"height":165,"view":{"stroke":"#9c9c9c","strokeWidth":1},
 "title":{"text":["Slope = -0.01 to -0.03","n = 5"],"anchor":"start","frame":"group","offset":-31,"dx":6,"fontSize":10.5,"fontWeight":"normal","lineHeight":11},
 "encoding":{"x":{"field":"x","type":"quantitative","scale":{"domain":[0,25],"nice":false,"zero":false},"axis":{"values":[0,5,10,15,20,25],"title":"Gene Density (genes/Mb)","titleFontSize":10.5,"titleFontWeight":"normal","titlePadding":3,"labelFontSize":10.5,"labelPadding":1,"labelFlush":false,"tickSize":4,"tickColor":"#333","domainColor":"#888","labelColor":"black","titleColor":"black"}},
  "color":{"field":"s","type":"nominal","scale":{"domain":["olive","purple","green","blue","red"],"range":["#8c7c14","#a32fd4","#1f8a3b","#1f74d2","#e4262c"]},"legend":null}},
 "layer":[
 {"data":{"name":"cl"},"transform":[{"filter":"datum.p==2 && (datum.s=='olive' || datum.s=='purple')"}],"mark":{"type":"line","clip":true,"strokeWidth":2},
  "encoding":{"y":{"field":"y","type":"quantitative","scale":{"domain":[-2,2],"nice":false,"zero":false},"axis":{"orient":"left","values":[-2,-1,0,1,2],"labelExpr":"''+datum.value","title":["Chromosome Association","(log\u2082 observed/expected)"],"titleFontSize":10.5,"titleFontWeight":"normal","titleLineHeight":12,"titlePadding":2,"labelFontSize":10.5,"labelPadding":2,"tickSize":4,"tickColor":"#333","domainColor":"#888","labelColor":"black","titleColor":"black"}}}},
 {"data":{"name":"cl"},"transform":[{"filter":"datum.p==2 && datum.s!='olive' && datum.s!='purple'"}],"mark":{"type":"line","clip":true,"strokeWidth":2},
  "encoding":{"y":{"field":"y","type":"quantitative","axis":{"orient":"left","values":[-1.8,-1.6,-1.4,-1.2,-0.8,-0.6,-0.4,-0.2,0.2,0.4,0.6,0.8,1.2,1.4,1.6,1.8],"labels":false,"tickSize":2,"domain":false,"title":null,"tickColor":"#333"}}}}
 ],
 "resolve":{"axis":{"y":"independent"}}}
],"spacing":60,"bounds":"flush","title":{"text":"C","anchor":"start","fontSize":17,"fontWeight":"bold","offset":-10}}
],"spacing":20}
]
}
